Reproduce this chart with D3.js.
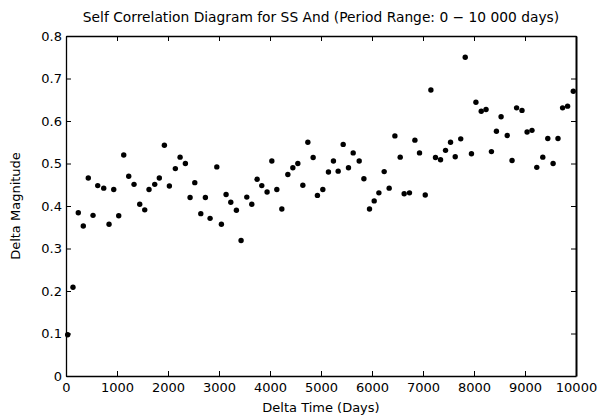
<!DOCTYPE html>
<html>
<head>
<meta charset="utf-8">
<script src="https://cdn.jsdelivr.net/npm/d3@7"></script>
<style>
  body { margin: 0; background: #fff; }
  text { font-family: "DejaVu Sans", sans-serif; fill: #000; }
</style>
</head>
<body>
<script>
(function (d3) {
    "use strict";

    /***** Data *****/
    var deltaTime = [33, 137, 241, 339, 437, 530, 622, 740, 844, 936,
        1034, 1132, 1230, 1334, 1446, 1544, 1628, 1740, 1830, 1929,
        2027, 2144, 2237, 2341, 2433, 2525, 2643, 2733, 2825, 2957,
        3047, 3139, 3231, 3341, 3433, 3545, 3643, 3747, 3839, 3943,
        4036, 4134, 4232, 4350, 4448, 4546, 4644, 4742, 4846, 4930,
        5036, 5146, 5244, 5337, 5435, 5539, 5631, 5749, 5841, 5951,
        6043, 6135, 6239, 6337, 6449, 6553, 6631, 6735, 6841, 6932,
        7044, 7155, 7245, 7344, 7442, 7540, 7632, 7740, 7828, 7950,
        8038, 8142, 8236, 8342, 8440, 8531, 8652, 8746, 8835, 8941,
        9041, 9137, 9231, 9349, 9447, 9551, 9647, 9737, 9835, 9947];
    var deltaMag = [0.097, 0.209, 0.384, 0.353, 0.466, 0.378, 0.448, 0.442, 0.357, 0.439,
        0.377, 0.520, 0.470, 0.451, 0.404, 0.391, 0.439, 0.451, 0.466, 0.543,
        0.447, 0.488, 0.515, 0.500, 0.420, 0.455, 0.382, 0.420, 0.371, 0.492,
        0.357, 0.427, 0.409, 0.390, 0.319, 0.421, 0.404, 0.463, 0.448, 0.433,
        0.506, 0.439, 0.393, 0.474, 0.490, 0.500, 0.449, 0.550, 0.514, 0.425,
        0.439, 0.480, 0.506, 0.482, 0.545, 0.490, 0.525, 0.506, 0.464, 0.393,
        0.412, 0.431, 0.481, 0.442, 0.565, 0.515, 0.429, 0.431, 0.555, 0.525,
        0.426, 0.673, 0.514, 0.509, 0.531, 0.550, 0.516, 0.558, 0.750, 0.523,
        0.644, 0.623, 0.627, 0.528, 0.576, 0.610, 0.566, 0.507, 0.631, 0.625,
        0.574, 0.578, 0.491, 0.515, 0.559, 0.500, 0.559, 0.631, 0.635, 0.670];
    var xTicks = [0, 1000, 2000, 3000, 4000, 5000, 6000, 7000, 8000, 9000, 10000];
    var yTicks = [0, 0.1, 0.2, 0.3, 0.4, 0.5, 0.6, 0.7, 0.8];

    /***** Configuration *****/
    var width = 599, height = 416;
    var margin = { top: 36, right: 23, bottom: 40, left: 66 };
    var plotW = width - margin.left - margin.right;
    var plotH = height - margin.top - margin.bottom;

    var xScale = d3.scaleLinear().domain([0, 10000]).range([0, plotW]);
    var yScale = d3.scaleLinear().domain([0, 0.8]).range([plotH, 0]);

    var svg = d3.select("body").append("svg")
        .attr("width", width)
        .attr("height", height);

    var g = svg.append("g")
        .attr("transform", "translate(" + margin.left + "," + margin.top + ")");

    /***** Axes (ticks pointing inward) *****/
    var fmtY = function (d) { return d === 0 ? "0" : d3.format(".1f")(d); };

    var bottom = g.append("g")
        .attr("transform", "translate(0," + plotH + ")")
        .call(d3.axisBottom(xScale).tickValues(xTicks).tickSizeInner(-5).tickSizeOuter(0)
            .tickPadding(7).tickFormat(d3.format("d")));
    var top = g.append("g")
        .call(d3.axisTop(xScale).tickValues(xTicks).tickSizeInner(-5).tickSizeOuter(0).tickFormat(""));
    var left = g.append("g")
        .call(d3.axisLeft(yScale).tickValues(yTicks).tickSizeInner(-5).tickSizeOuter(0).tickPadding(4).tickFormat(fmtY));
    var right = g.append("g")
        .attr("transform", "translate(" + plotW + ",0)")
        .call(d3.axisRight(yScale).tickValues(yTicks).tickSizeInner(-5).tickSizeOuter(0).tickFormat(""));

    [bottom, top, left, right].forEach(function (ax) {
        ax.select(".domain").attr("stroke", "#000").attr("stroke-width", 1.3);
        ax.selectAll(".tick line").attr("stroke", "#000");
        ax.selectAll(".tick text").style("font-size", "13px").attr("fill", "#000");
    });
    right.select(".domain").attr("stroke-width", 2);

    /***** Points *****/
    var points = deltaTime.map(function (t, i) { return { t: t, m: deltaMag[i] }; });
    g.append("g").selectAll("circle")
        .data(points)
        .join("circle")
        .attr("cx", function (d) { return xScale(d.t); })
        .attr("cy", function (d) { return yScale(d.m); })
        .attr("r", 2.7)
        .attr("fill", "#000");

    /***** Labels *****/
    svg.append("text")
        .attr("x", margin.left + plotW / 2)
        .attr("y", 22)
        .attr("text-anchor", "middle")
        .style("font-size", "13.8px")
        .text("Self Correlation Diagram for SS And (Period Range: 0 \u2212 10 000 days)");

    svg.append("text")
        .attr("x", margin.left + plotW / 2)
        .attr("y", 412)
        .attr("text-anchor", "middle")
        .style("font-size", "13px")
        .text("Delta Time (Days)");

    svg.append("text")
        .attr("transform", "translate(20," + (margin.top + plotH / 2) + ") rotate(-90)")
        .attr("text-anchor", "middle")
        .style("font-size", "13px")
        .text("Delta Magnitude");

})(d3);
</script>
</body>
</html>
